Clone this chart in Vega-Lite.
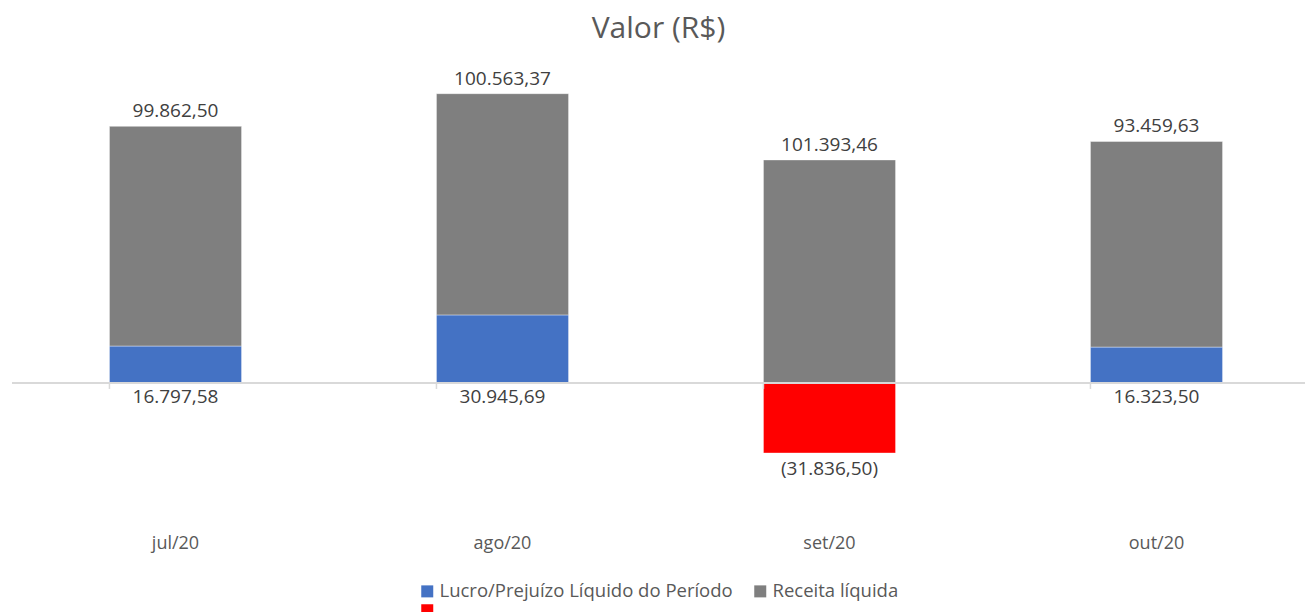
{
  "$schema": "https://vega.github.io/schema/vega-lite/v6.json",
  "autosize": {"type": "none"},
  "width": 1293,
  "height": 440,
  "padding": {"left": 12, "top": 75, "right": 0, "bottom": 97},
  "background": "white",
  "title": {"text": "Valor (R$)", "font": "Open Sans", "fontSize": 30, "fontWeight": "normal", "color": "#595959", "anchor": "middle", "frame": "group", "offset": 26},
  "data": {"values": [
    {"mes": "jul/20", "serie": "Lucro/Prejuízo Líquido do Período", "valor": 16797.58},
    {"mes": "jul/20", "serie": "Receita líquida", "valor": 99862.50},
    {"mes": "ago/20", "serie": "Lucro/Prejuízo Líquido do Período", "valor": 30945.69},
    {"mes": "ago/20", "serie": "Receita líquida", "valor": 100563.37},
    {"mes": "set/20", "serie": "neg", "valor": -31836.50},
    {"mes": "set/20", "serie": "Receita líquida", "valor": 101393.46},
    {"mes": "out/20", "serie": "Lucro/Prejuízo Líquido do Período", "valor": 16323.50},
    {"mes": "out/20", "serie": "Receita líquida", "valor": 93459.63}
  ]},
  "transform": [
    {"stack": "valor", "groupby": ["mes"], "sort": [{"field": "serie", "order": "ascending"}], "as": ["v0", "v1"], "offset": "zero"}
  ],
  "encoding": {
    "x": {"field": "mes", "type": "nominal", "sort": ["jul/20", "ago/20", "set/20", "out/20"],
      "scale": {"range": [0, 1308], "paddingInner": 0.596, "paddingOuter": 0.298},
      "axis": {"title": null, "domain": false, "ticks": false, "labelAngle": 0, "labelPadding": 19, "labelFont": "Open Sans", "labelFontSize": 18, "labelColor": "#595959"}}
  },
  "layer": [
    {
      "mark": {"type": "bar", "stroke": "white", "strokeOpacity": 0.4, "strokeWidth": 1},
      "encoding": {
        "y": {"field": "v0", "type": "quantitative", "scale": {"domain": [-60000, 140000], "nice": false, "zero": false}, "axis": null},
        "y2": {"field": "v1"},
        "color": {"field": "serie", "type": "nominal",
          "scale": {"domain": ["Lucro/Prejuízo Líquido do Período", "Receita líquida", "neg"], "range": ["#4472C4", "#7F7F7F", "#FF0000"]},
          "legend": {"title": null, "orient": "bottom", "direction": "horizontal", "columns": 2, "symbolType": "square", "symbolSize": 144, "symbolStrokeWidth": 0, "labelFont": "Open Sans", "labelFontSize": 18.5, "labelColor": "#595959", "labelLimit": 400, "labelOffset": 3, "columnPadding": 18, "rowPadding": 0, "offset": 30,
            "labelExpr": "datum.label == 'neg' ? '' : datum.label"}}
      }
    },
    {
      "mark": {"type": "rule", "color": "#D9D9D9", "strokeWidth": 1.5},
      "encoding": {"x": null, "y": {"datum": 0, "type": "quantitative"}}
    },
    {
      "transform": [{"filter": "datum.serie == 'Receita líquida'"}],
      "mark": {"type": "rule", "color": "#D9D9D9", "strokeWidth": 1.5},
      "encoding": {"x": {"field": "mes", "type": "nominal", "sort": ["jul/20", "ago/20", "set/20", "out/20"], "bandPosition": 0}, "y": {"datum": 0, "type": "quantitative"}, "y2": {"datum": -2700}}
    },
    {
      "transform": [{"filter": "datum.serie == 'Receita líquida'"}],
      "mark": {"type": "text", "font": "Open Sans", "fontSize": 19, "color": "#404040", "baseline": "bottom", "dy": -5},
      "encoding": {"y": {"field": "v1", "type": "quantitative"}, "text": {"field": "valor", "type": "quantitative", "format": "(,.2f"}}
    },
    {
      "transform": [{"filter": "datum.serie != 'Receita líquida' && datum.valor >= 0"}],
      "mark": {"type": "text", "font": "Open Sans", "fontSize": 19, "color": "#404040", "baseline": "top", "dy": 5},
      "encoding": {"y": {"datum": 0, "type": "quantitative"}, "text": {"field": "valor", "type": "quantitative", "format": "(,.2f"}}
    },
    {
      "transform": [{"filter": "datum.serie != 'Receita líquida' && datum.valor < 0"}],
      "mark": {"type": "text", "font": "Open Sans", "fontSize": 19, "color": "#404040", "baseline": "top", "dy": 7},
      "encoding": {"y": {"field": "v1", "type": "quantitative"}, "text": {"field": "valor", "type": "quantitative", "format": "(,.2f"}}
    }
  ],
  "config": {
    "view": {"stroke": null},
    "legend": {"layout": {"bottom": {"anchor": "middle"}}},
    "locale": {"number": {"decimal": ",", "thousands": ".", "grouping": [3], "currency": ["R$ ", ""]}}
  }
}
